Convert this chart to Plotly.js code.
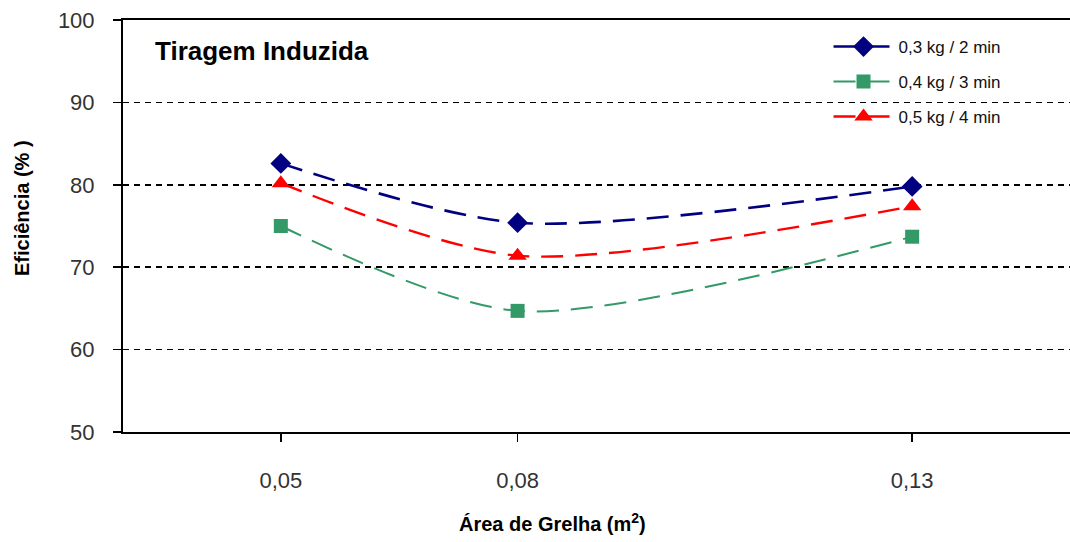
<!DOCTYPE html>
<html>
<head>
<meta charset="utf-8">
<script src="https://cdn.plot.ly/plotly-3.0.1.min.js"></script>
<style>html,body{margin:0;padding:0;background:#fff;}#chart{width:1070px;height:542px;}</style>
</head>
<body>
<div id="chart"></div>
<script>
const areas = [0.05, 0.08, 0.13];
const areaLabels = ['0,05', '0,08', '0,13'];
const yTicks = [50, 60, 70, 80, 90, 100];
const seriesNames = ['0,3 kg / 2 min', '0,4 kg / 3 min', '0,5 kg / 4 min'];
const eff03 = [82.6, 75.4, 79.8];
const eff04 = [75.0, 64.7, 73.7];
const eff05 = [80.2, 71.4, 77.4];

const font = 'Arial, "Liberation Sans", sans-serif';
const mk = (name, y, color, sym, size, w, leg) => ({
  x: areas, y: y, name: name, type: 'scatter', mode: 'lines+markers',
  line: {color: color, width: w, dash: '22px,12px', shape: 'spline', smoothing: 0.8},
  marker: {symbol: sym, size: size, color: color},
  legend: leg
});
const data = [
  mk(seriesNames[0], eff03, '#000080', 'diamond', 16, 2.6, 'legend'),
  mk(seriesNames[1], eff04, '#339966', 'square', 14, 2, 'legend2'),
  mk(seriesNames[2], eff05, '#FF0000', 'triangle-up', 16, 2.4, 'legend3')
];
const legBase = {x: 0.745, xanchor: 'left', yanchor: 'middle', bgcolor: 'rgba(0,0,0,0)',
  font: {family: font, size: 17, color: '#111'}, itemwidth: 60};
const yp = px => (432 - px) / 412;
const layout = {
  width: 1070, height: 542,
  margin: {l: 123, r: 0, t: 20, b: 110},
  paper_bgcolor: '#fff', plot_bgcolor: '#fff',
  font: {family: font},
  showlegend: true,
  legend: Object.assign({}, legBase, {y: yp(47)}),
  legend2: Object.assign({}, legBase, {y: yp(82)}),
  legend3: Object.assign({}, legBase, {y: yp(117)}),
  xaxis: {
    range: [0.03, 0.15], tickvals: areas, ticktext: areaLabels,
    showgrid: false, zeroline: false, showline: true, mirror: true,
    linecolor: '#000', linewidth: 2, ticks: 'outside', ticklen: 8, tickwidth: 1.5, tickcolor: '#000',
    ticklabelstandoff: 20,
    tickfont: {family: font, size: 22, color: '#333'}
  },
  yaxis: {
    range: [50, 100], tickvals: yTicks, ticktext: yTicks.map(String),
    showgrid: true, gridcolor: '#000', gridwidth: 1.5, griddash: '6px,5px',
    zeroline: false, showline: true, linecolor: '#000', linewidth: 2,
    ticks: 'outside', ticklen: 8, tickwidth: 1.5, tickcolor: '#000',
    ticklabelstandoff: 14,
    tickfont: {family: font, size: 22, color: '#333'}
  },
  annotations: [
    {text: '<b>Tiragem Induzida</b>', xref: 'paper', yref: 'paper', x: (153 - 123) / 947, y: yp(51),
     xanchor: 'left', yanchor: 'middle', showarrow: false, font: {family: font, size: 26, color: '#000'}},
    {text: '<b>Área de Grelha (m<sup>2</sup>)</b>', xref: 'paper', yref: 'paper', x: (552 - 123) / 947, y: yp(522),
     xanchor: 'center', yanchor: 'middle', showarrow: false, font: {family: font, size: 20, color: '#000'}},
    {text: '<b>Eficiência (% )</b>', xref: 'paper', yref: 'paper', x: (22 - 123) / 947, y: yp(208),
     xanchor: 'center', yanchor: 'middle', showarrow: false, textangle: -90, font: {family: font, size: 20, color: '#000'}}
  ]
};
Plotly.newPlot('chart', data, layout, {displayModeBar: false, staticPlot: true});
</script>
</body>
</html>
